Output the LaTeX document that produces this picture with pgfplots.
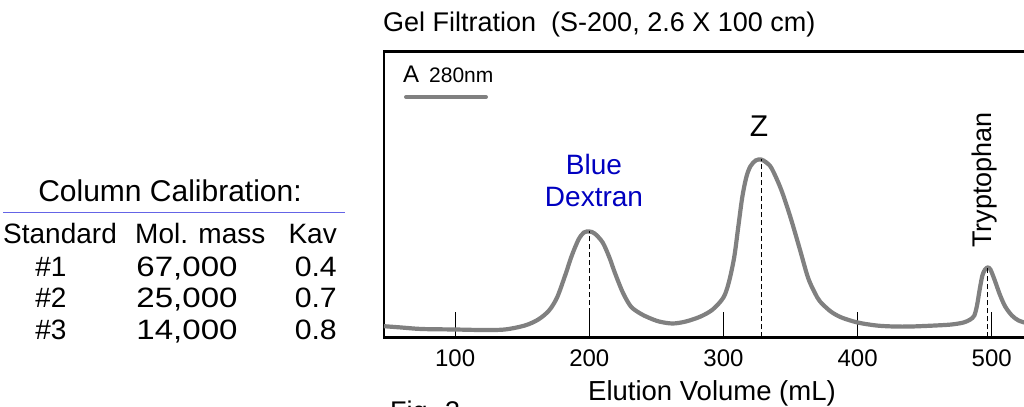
\documentclass[border=0pt]{standalone}
\usepackage{fontspec}
\setmainfont{Liberation Sans}
\usepackage{pgfplots}
\pgfplotsset{compat=1.18}
\definecolor{trace}{RGB}{128,128,128}
\definecolor{bdblue}{RGB}{0,0,192}
\definecolor{rulecol}{RGB}{100,100,230}
\newcommand{\fs}[1]{\fontsize{#1bp}{#1bp}\selectfont}
\newcommand{\widen}[2][1.15]{\scalebox{#1}[1]{#2}}

\begin{document}
\begin{tikzpicture}
\path[use as bounding box, clip] (0,0) rectangle (1024bp,407bp);

\begin{axis}[
    at={(384bp,69.5bp)}, anchor=south west,
    scale only axis, width=648bp, height=286bp,
    xmin=47, xmax=530, ymin=0, ymax=286,
    axis line style={line width=2.8bp},
    xtick={100,200,300,400,500}, ytick=\empty,
    xtick pos=left, tick align=inside,
    major tick length=25bp,
    major tick style={line width=0.8bp, black},
    xticklabel style={font=\fs{24}, inner sep=0pt, yshift=-12.5bp},
    /pgf/number format/assume math mode=true,
    clip=false]
  % A280 trace
  \addplot[trace, line width=4.2bp, smooth] coordinates {
    (47,11.3)(60,10)(75,8.5)(100,8)(120,7.5)(137,8)(152,12)(162,18)(170,27)
    (176,40)(182,62)(187,82)(192,98)(196,105)(200,106)(204,104)(210,95)(215,80)
    (219,65)(225,45)(231,31)(238,24)(244,20)(252,16)(262,14)(272,16)(283,21)
    (292,28)(300,40)(304,55)(308,80)(311,110)(314,140)(317,160)(320,171)(324,177)
    (328,178)(332,175)(336,169)(343,148)(350,120)(357,88)(363,60)(368,45)(372,36)
    (380,26)(388,20)(400,15)(414,12)(427,11)(440,11)(458,12)(470,13)(479,15)
    (484,18)(487,22)(489,32)(491,48)(493,62)(495,68)(497,70)(499,68)(502,58)
    (506,43)(510,31)(515,22)(520,17)(527,14)};
  % peak markers
  \addplot[black, line width=0.8bp, dash pattern=on 5bp off 3bp] coordinates {(200,0)(200,106)};
  \addplot[black, line width=0.8bp, dash pattern=on 5bp off 3bp] coordinates {(328,0)(328,178)};
  \addplot[black, line width=0.8bp, dash pattern=on 5bp off 3bp] coordinates {(497,0)(497,70)};
\end{axis}

% titles and labels
\node[anchor=base west, inner sep=0, font=\fs{27}] at (383bp,375bp) {Gel Filtration~~(S-200, 2.6 X 100 cm)};
\node[anchor=base west, inner sep=0, font=\fs{24}] at (403bp,324bp) {A};
\node[anchor=base west, inner sep=0, font=\fs{21}] at (429bp,324bp) {280nm};
\draw[trace, line width=4bp, line cap=round] (406bp,310bp) -- (486bp,310bp);
\node[anchor=base, inner sep=0, font=\fs{30}] at (759bp,270bp) {Z};
\node[anchor=base, inner sep=0, font=\fs{28}, text=bdblue] at (594bp,232bp) {Blue};
\node[anchor=base, inner sep=0, font=\fs{28}, text=bdblue] at (594bp,200bp) {Dextran};
\node[rotate=90, anchor=base west, inner sep=0, font=\fs{27}] at (991bp,159bp) {Tryptophan};
\node[anchor=base, inner sep=0, font=\fs{27.5}] at (712bp,7bp) {Elution Volume (mL)};
\node[anchor=north west, inner sep=0, font=\fs{27}] at (390bp,6bp) {Fig. 3};

% calibration table
\node[anchor=base, inner sep=0, font=\fs{30}] at (170bp,205bp) {Column Calibration:};
\draw[rulecol, line width=1bp] (3bp,194bp) -- (345bp,194bp);
\node[anchor=base west, inner sep=0, font=\fs{28}] at (3bp,163bp) {Standard};
\node[anchor=base west, inner sep=0, font=\fs{28}] at (135bp,163bp) {Mol. mass};
\node[anchor=base east, inner sep=0, font=\fs{28}] at (337bp,163bp) {Kav};
\node[anchor=base, inner sep=0, font=\fs{28}] at (51bp,130bp) {\#1};
\node[anchor=base, inner sep=0, font=\fs{28}] at (187bp,130bp) {\widen[1.18]{67,000}};
\node[anchor=base east, inner sep=0, font=\fs{28}] at (337bp,130bp) {\widen[1.08]{0.4}};
\node[anchor=base, inner sep=0, font=\fs{28}] at (51bp,99bp) {\#2};
\node[anchor=base, inner sep=0, font=\fs{28}] at (187bp,99bp) {\widen[1.18]{25,000}};
\node[anchor=base east, inner sep=0, font=\fs{28}] at (337bp,99bp) {\widen[1.08]{0.7}};
\node[anchor=base, inner sep=0, font=\fs{28}] at (51bp,67bp) {\#3};
\node[anchor=base, inner sep=0, font=\fs{28}] at (187bp,67bp) {\widen[1.18]{14,000}};
\node[anchor=base east, inner sep=0, font=\fs{28}] at (337bp,67bp) {\widen[1.08]{0.8}};
\end{tikzpicture}
\end{document}
